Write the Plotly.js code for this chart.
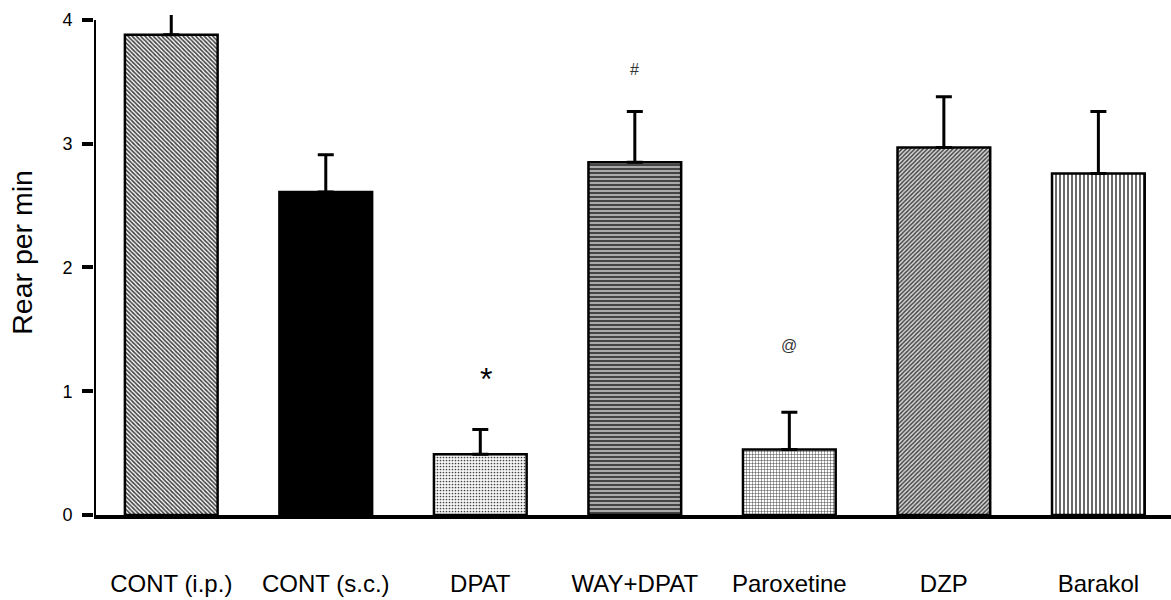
<!DOCTYPE html>
<html><head><meta charset="utf-8">
<script src="https://cdn.plot.ly/plotly-3.0.1.min.js"></script>
<style>html,body{margin:0;padding:0;background:#fff}#c{width:1171px;height:600px}</style>
</head><body><div id="c"></div>
<script>
const categories = ["CONT (i.p.)", "CONT (s.c.)", "DPAT", "WAY+DPAT", "Paroxetine", "DZP", "Barakol"];
const means = [3.88, 2.61, 0.49, 2.85, 0.53, 2.97, 2.76];
const sem = [0.30, 0.30, 0.20, 0.41, 0.30, 0.41, 0.50];
const marks = ["", "", "*", "#", "@", "", ""];
const markY = [0, 0, 1.10, 3.60, 1.37, 0, 0];

const xs = categories.map((_, i) => i);
const patShapes = ["\\", "", ".", "-", "+", "/", "|"];
const patFg = ["#000", "#000", "#aaa", "#333", "#777", "#000", "#999"];
const patBg = ["#fff", "#000", "#f6f6f6", "#aaa", "#fff", "#ddd", "#fff"];
const patSize = [3, 4, 3, 4, 3, 3, 4];
const patSolid = [0.55, 0.3, 0.25, 0.5, 0.3, 0.5, 0.4];

const trace = {
  type: "bar", x: xs, y: means, width: 0.6,
  marker: {
    color: patBg,
    line: {color: "#000", width: 2.5},
    pattern: {shape: patShapes, fgcolor: patFg, size: patSize, solidity: patSolid, fillmode: "overlay", fgopacity: 1}
  },
  error_y: {type: "data", symmetric: false, array: sem, arrayminus: means.map(() => 0), color: "#000", thickness: 3, width: 8},
  cliponaxis: true, hoverinfo: "none"
};

const annotations = [];
marks.forEach((m, i) => {
  if (m) annotations.push({x: i + (m === "*" ? 0.04 : 0), y: markY[i], xref: "x", yref: "y", text: m, showarrow: false,
    font: {family: "Liberation Sans, Arial, sans-serif", size: m === "*" ? 32 : 16, color: m === "*" ? "#000" : "#333"}});
});
annotations.push({xref: "paper", yref: "paper", x: -0.0675, y: 0.525, xanchor: "center", yanchor: "middle",
  text: "Rear per min", textangle: -90, showarrow: false,
  font: {family: "Liberation Sans, Arial, sans-serif", size: 28.5, color: "#000"}});

const layout = {
  width: 1171, height: 600,
  margin: {l: 94, r: 0, t: 15, b: 85},
  paper_bgcolor: "#fff", plot_bgcolor: "#fff",
  showlegend: false,
  font: {family: "Liberation Sans, Arial, sans-serif", color: "#000"},
  xaxis: {
    range: [-0.5, 6.47], tickvals: xs, ticktext: categories,
    showline: true, linecolor: "#000", linewidth: 4,
    ticks: "", showgrid: false, zeroline: false,
    tickfont: {size: 24, color: "#000"}, ticklabelstandoff: 44
  },
  yaxis: {
    range: [0, 4.04], tickvals: [0, 1, 2, 3, 4], showline: false,
    ticks: "outside", ticklen: 11, tickwidth: 4, tickcolor: "#000",
    showgrid: false, zeroline: false, ticklabelstandoff: 6,
    tickfont: {size: 18, color: "#000"}
  },
  shapes: [
    {type: "line", xref: "x", yref: "y", x0: -0.5, x1: -0.5, y0: 0, y1: 4, line: {color: "#000", width: 4}}
  ],
  annotations: annotations
};

Plotly.newPlot("c", [trace], layout, {displayModeBar: false, staticPlot: true});
</script></body></html>
